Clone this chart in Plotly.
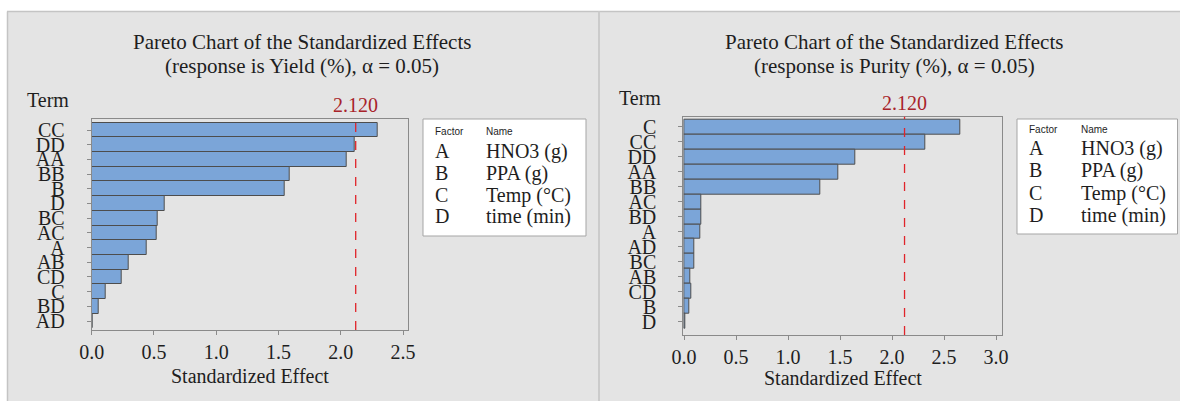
import plotly.graph_objects as go

# ---------------- data ----------------
yield_terms = ["CC", "DD", "AA", "BB", "B", "D", "BC", "AC", "A", "AB", "CD", "C", "BD", "AD"]
yield_effects = [2.30, 2.11, 2.05, 1.59, 1.55, 0.59, 0.53, 0.52, 0.44, 0.30, 0.24, 0.11, 0.06, 0.005]

purity_terms = ["C", "CC", "DD", "AA", "BB", "AC", "BD", "A", "AD", "BC", "AB", "CD", "B", "D"]
purity_effects = [2.66, 2.32, 1.65, 1.48, 1.31, 0.17, 0.17, 0.16, 0.10, 0.10, 0.06, 0.07, 0.055, 0.012]

critical_value = 2.120
factor_letters = ["A", "B", "C", "D"]
factor_names = ["HNO3 (g)", "PPA (g)", "Temp (°C)", "time (min)"]

titles_line1 = ["Pareto Chart of the Standardized Effects", "Pareto Chart of the Standardized Effects"]
titles_line2 = ["(response is Yield (%), α = 0.05)", "(response is Purity (%), α = 0.05)"]

# ---------------- layout helpers ----------------
W, H = 1180, 401
def px(x):
    return x / W
def py(y):
    return 1 - y / H

SERIF = "Liberation Serif, Times New Roman, serif"
SANS = "Liberation Sans, Arial, sans-serif"
TXT = "#1e1e1e"
BAR = "#7ba5d8"
BAR_LINE = "#4d4d4d"
RED_TXT = "#a8232a"
RED_LINE = "#e0242a"
BG = "#e4e4e4"

fig = go.Figure()

fig.add_trace(go.Bar(x=yield_effects, y=yield_terms, orientation="h",
                     marker=dict(color=BAR, line=dict(color=BAR_LINE, width=1)),
                     xaxis="x", yaxis="y", showlegend=False))
fig.add_trace(go.Bar(x=purity_effects, y=purity_terms, orientation="h",
                     marker=dict(color=BAR, line=dict(color=BAR_LINE, width=1)),
                     xaxis="x2", yaxis="y2", showlegend=False))

common_x = dict(showgrid=False, zeroline=False, showline=True, linecolor="#8a8a8a", linewidth=1,
                mirror=True, ticks="outside", ticklen=4, tickcolor="#8a8a8a", automargin=False,
                tickfont=dict(family=SERIF, size=20, color=TXT), dtick=0.5, tickformat=".1f",
                ticklabelstandoff=0)
common_y = dict(showgrid=False, zeroline=False, showline=True, linecolor="#8a8a8a", linewidth=1,
                mirror=True, ticks="outside", ticklen=4, tickcolor="#8a8a8a", automargin=False,
                tickfont=dict(family=SERIF, size=20, color=TXT), type="category",
                ticklabelstandoff=18)

fig.update_layout(
    width=W, height=H, margin=dict(l=0, r=0, t=0, b=0, autoexpand=False),
    paper_bgcolor="white", plot_bgcolor="white", bargap=0,
    xaxis=dict(common_x, domain=[px(91.7), px(408)], range=[0, 2.54], anchor="y"),
    yaxis=dict(common_y, domain=[py(330), py(119)], categoryorder="array",
               categoryarray=yield_terms, tickmode="array", tickvals=yield_terms, ticktext=yield_terms,
               range=[13.61, -0.75], anchor="x"),
    xaxis2=dict(common_x, domain=[px(683.3), px(1002.3)], range=[-0.007, 3.06], anchor="y2"),
    yaxis2=dict(common_y, domain=[py(335), py(116.7)], categoryorder="array",
                categoryarray=purity_terms, tickmode="array", tickvals=purity_terms, ticktext=purity_terms,
                range=[13.89, -0.67], anchor="x2"),
)

shapes = []
# background panels
shapes.append(dict(type="rect", xref="paper", yref="paper", x0=px(7), x1=px(1180), y0=0, y1=py(11),
                   fillcolor=BG, line=dict(width=0), layer="below"))
shapes.append(dict(type="line", xref="paper", yref="paper", x0=px(7), x1=px(1180), y0=py(11.5), y1=py(11.5),
                   line=dict(color="#c4c4c4", width=1.5), layer="below"))
shapes.append(dict(type="line", xref="paper", yref="paper", x0=px(7.5), x1=px(7.5), y0=0, y1=py(11.5),
                   line=dict(color="#c4c4c4", width=1.5), layer="below"))
shapes.append(dict(type="line", xref="paper", yref="paper", x0=px(599), x1=px(599), y0=0, y1=py(11.5),
                   line=dict(color="#cbcbcb", width=2), layer="below"))
# critical lines
for xr, yr in (("x", "y domain"), ("x2", "y2 domain")):
    shapes.append(dict(type="line", xref=xr, yref=yr, x0=critical_value, x1=critical_value, y0=0, y1=1,
                       line=dict(color=RED_LINE, width=1.3, dash="dash")))
# legend boxes
boxes = [(423, 586, 119, 236), (1017, 1177.5, 119, 234)]
for (x0, x1, y0, y1) in boxes:
    shapes.append(dict(type="rect", xref="paper", yref="paper", x0=px(x0), x1=px(x1), y0=py(y1), y1=py(y0),
                       fillcolor="white", line=dict(color="#a5a5a5", width=1)))

anns = []
def text(x, y, s, size=20, color=TXT, family=SERIF, xanchor="center", xref="paper"):
    anns.append(dict(x=x if xref != "paper" else px(x), y=py(y), xref=xref, yref="paper", text=s,
                     showarrow=False, xanchor=xanchor, yanchor="middle",
                     font=dict(family=family, size=size, color=color)))

# titles
for i, cx in enumerate([302, 894]):
    text(cx, 42, titles_line1[i], size=21)
    text(cx, 66, titles_line2[i], size=21)

# Term labels
text(25, 100, "Term", xanchor="left")
text(617, 98.5, "Term", xanchor="left")
# critical value labels
text(critical_value, 104.5, f"{critical_value:.3f}", color=RED_TXT, xref="x")
text(critical_value, 102.5, f"{critical_value:.3f}", color=RED_TXT, xref="x2")
# x axis titles
text((91.7 + 408) / 2, 376, "Standardized Effect")
text((683.3 + 1002.3) / 2, 377.5, "Standardized Effect")

# legend contents
legend_cfg = [(433, 484, 131, [151, 173, 195, 216]), (1027, 1079, 129, [148, 170, 193, 215])]
for (xl, xn, yh, rows) in legend_cfg:
    text(xl, yh, "Factor", size=10, family=SANS, xanchor="left")
    text(xn, yh, "Name", size=10, family=SANS, xanchor="left")
    for letter, name, yr in zip(factor_letters, factor_names, rows):
        text(xl, yr, letter, xanchor="left")
        text(xn, yr, name, xanchor="left")

fig.update_layout(shapes=shapes, annotations=anns)
fig.write_html("out.html")
